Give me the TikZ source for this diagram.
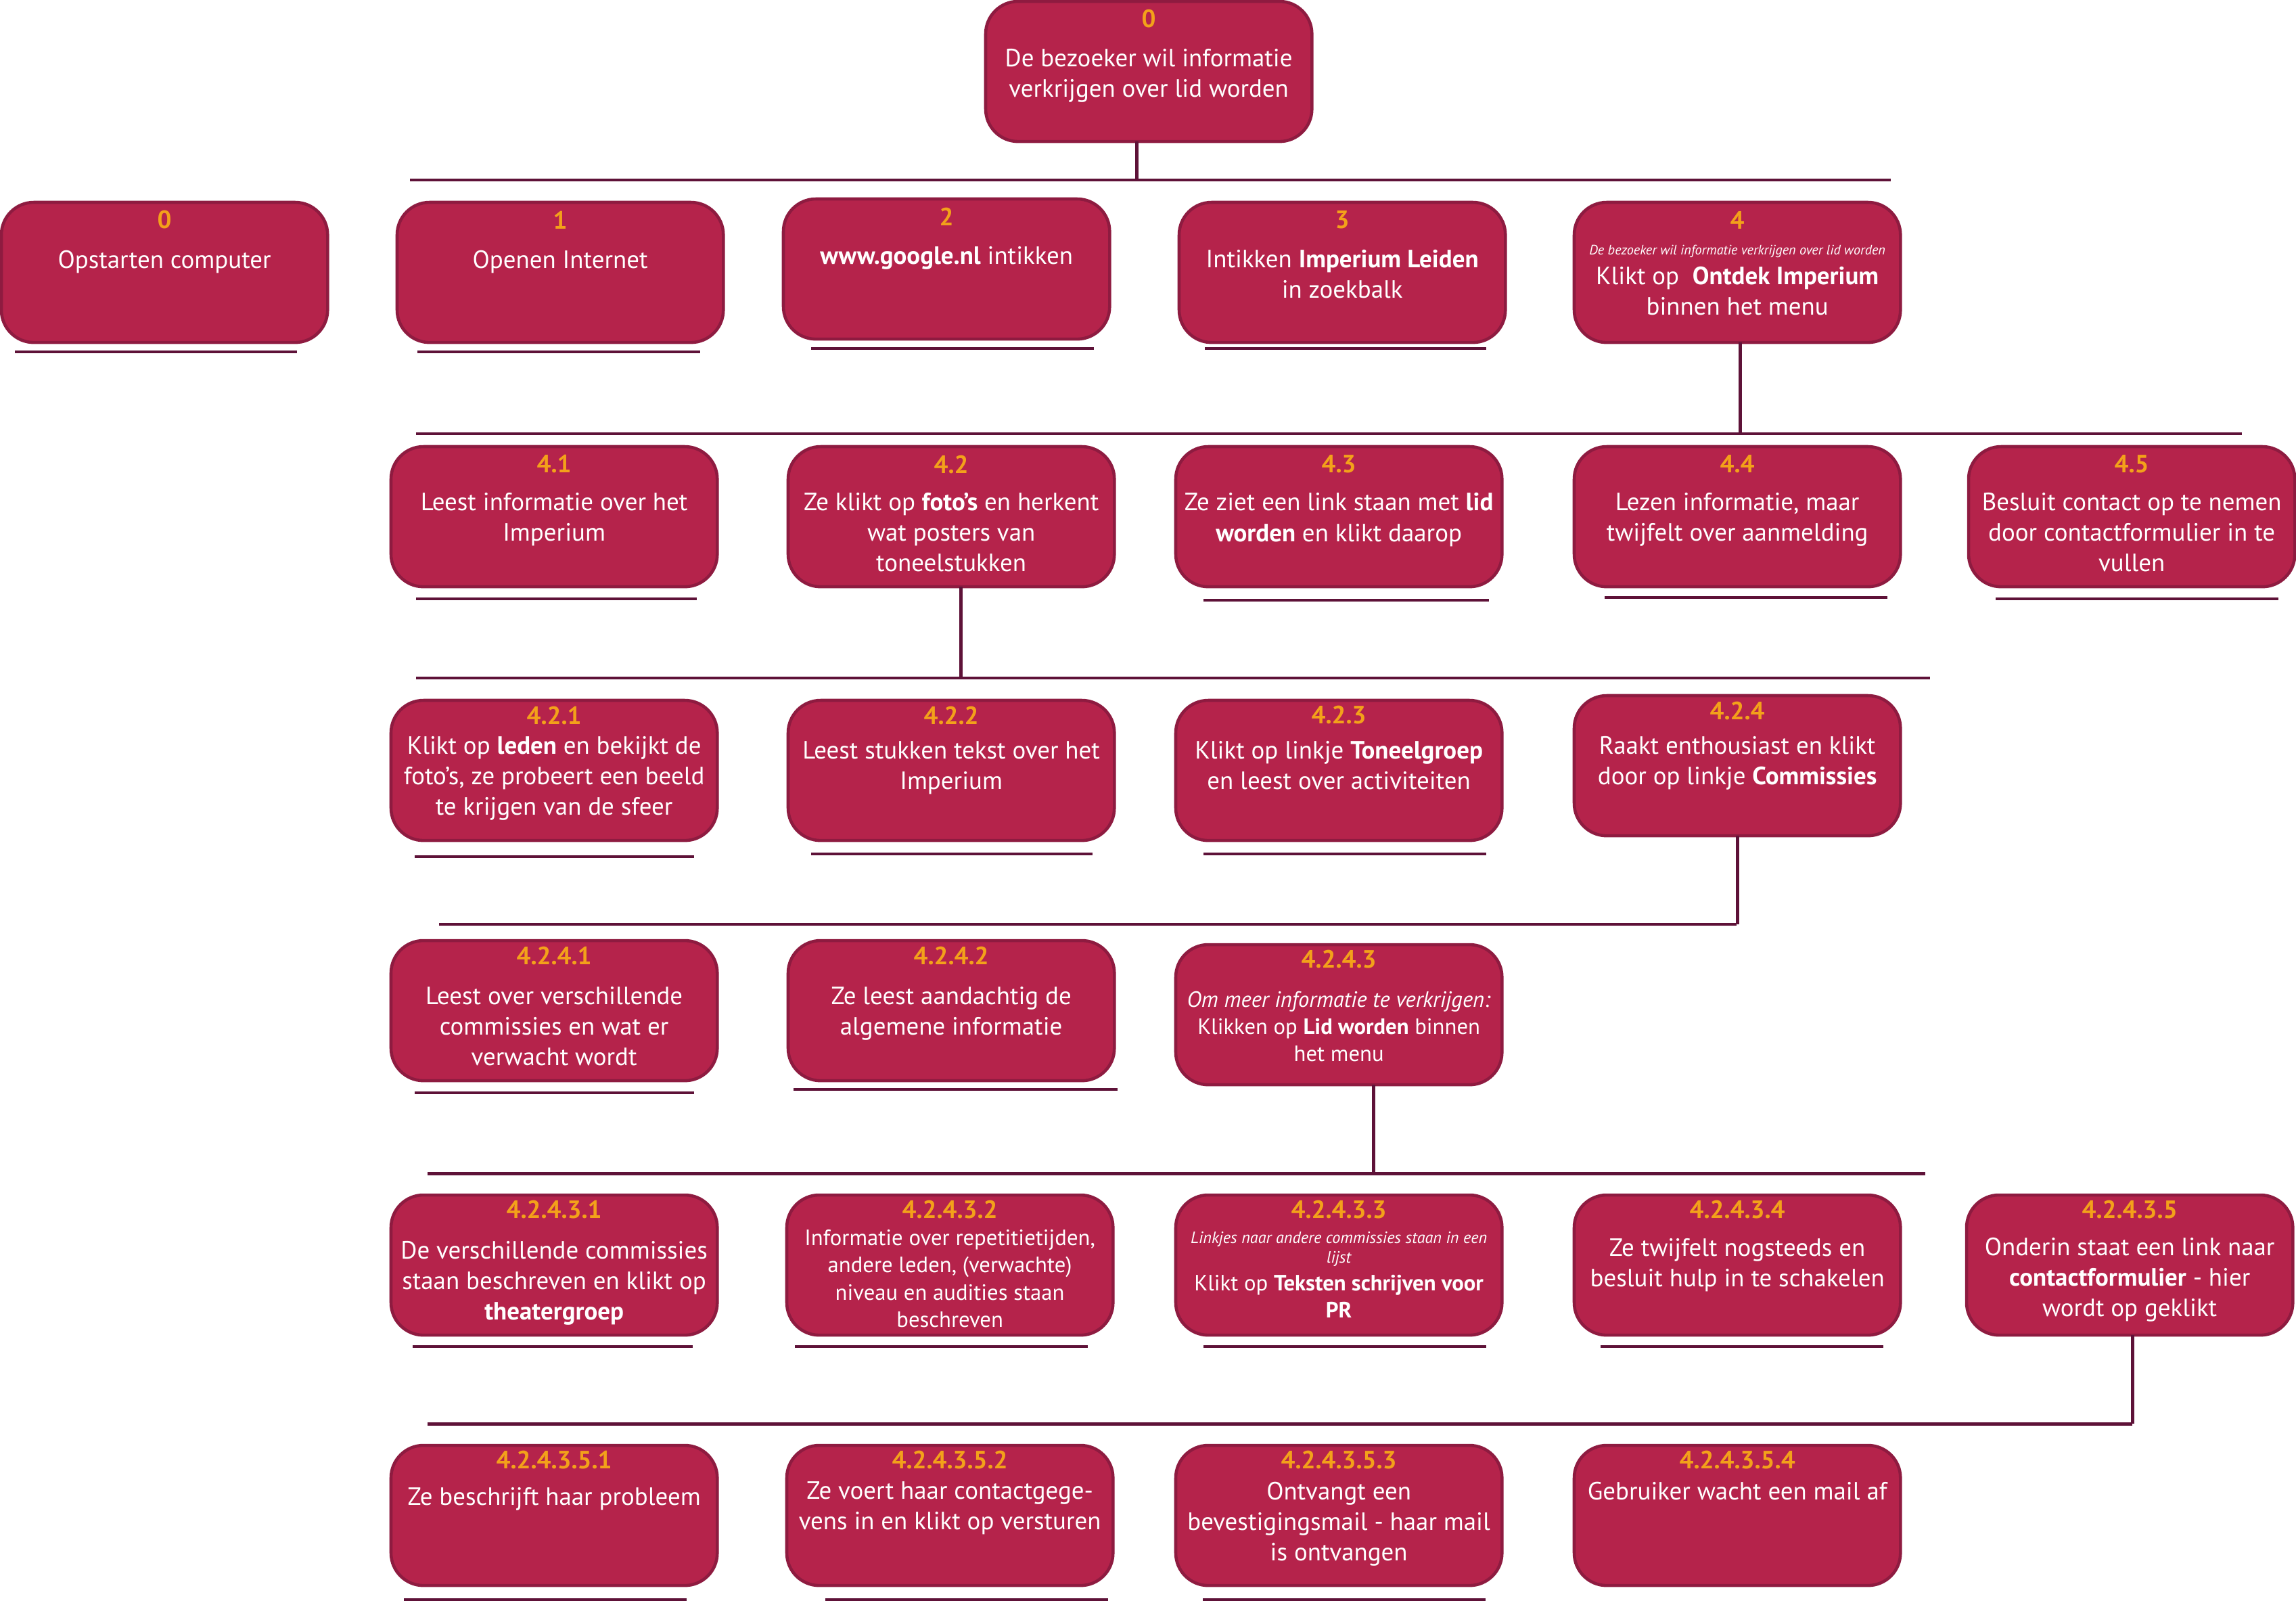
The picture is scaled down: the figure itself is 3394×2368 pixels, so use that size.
\documentclass[tikz,border=0pt]{standalone}
\usepackage{fontspec}
\setmainfont{PT Sans}
\usetikzlibrary{calc}

\definecolor{boxfill}{HTML}{B5234B}
\definecolor{boxborder}{HTML}{8E1B40}
\definecolor{linecol}{HTML}{5E1238}
\definecolor{numorange}{HTML}{F3A11A}

\tikzset{
  stepbox/.style={draw=boxborder, fill=boxfill, line width=1.3pt,
    rounded corners=0.48cm, minimum width=4.82cm, minimum height=2.07cm,
    inner sep=0pt, outer sep=0pt},
  numtext/.style={text=numorange, font=\bfseries\fontsize{10.5}{12}\selectfont, inner sep=0pt},
  steptext/.style={text=white, font=\fontsize{10.5}{12.8}\selectfont, align=center,
    inner sep=0pt, anchor=north},
  smalltext/.style={font=\fontsize{9.3}{11.4}\selectfont},
  tinytext/.style={font=\itshape\fontsize{5.75}{7}\selectfont},
  link/.style={draw=linecol, line width=1.4pt},
  underrule/.style={draw=linecol, line width=1.3pt},
}

% #1 name, #2 left, #3 top, #4 number, #5 number offset, #6 text offset, #7 text style, #8 text
\newcommand\flowstep[8]{%
  \node[stepbox, anchor=north west] (#1) at (#2,#3) {};
  \node[numtext] (#1-nr) at ($(#1.north)+(0,#5)$) {#4};
  \node[steptext,#7] (#1-tx) at ($(#1.north)+(0,#6)$) {#8};
}

\begin{document}
\begin{tikzpicture}[x=0.01cm, y=-0.01cm]
\useasboundingbox (0,0) rectangle (3394,2368);

% ---- top goal
\flowstep{top}{1457}{2}{0}{26}{70}{}{De bezoeker wil informatie\\verkrijgen over lid worden}

% ---- row 1
\flowstep{s0}{2}{299}{0}{26}{70}{}{Opstarten computer}
\flowstep{s1}{587}{299}{1}{26}{70}{}{Openen Internet}
\flowstep{s2}{1158}{294}{2}{26}{70}{}{\textbf{www.google.nl} intikken}
\flowstep{s3}{1743}{299}{3}{26}{70}{}{Intikken \textbf{Imperium Leiden}\\in zoekbalk}
\flowstep{s4}{2327}{299}{4}{26}{94}{}{Klikt op \ \textbf{Ontdek Imperium}\\binnen het menu}
\node[steptext,tinytext] (s4-sub) at ($(s4.north)+(0,62)$) {De bezoeker wil informatie verkrijgen over lid worden};

% ---- row 2
\flowstep{s41}{578}{660}{4.1}{26}{68}{}{Leest informatie over het\\Imperium}
\flowstep{s42}{1165}{660}{4.2}{26}{68}{}{Ze klikt op \textbf{foto’s} en herkent\\wat posters van\\toneelstukken}
\flowstep{s43}{1738}{660}{4.3}{26}{68}{}{Ze ziet een link staan met \textbf{lid}\\\textbf{worden} en klikt daarop}
\flowstep{s44}{2327}{660}{4.4}{26}{68}{}{Lezen informatie, maar\\twijfelt over aanmelding}
\flowstep{s45}{2910}{660}{4.5}{26}{68}{}{Besluit contact op te nemen\\door contactformulier in te\\vullen}

% ---- row 3
\flowstep{s421}{578}{1035}{4.2.1}{22}{53}{}{Klikt op \textbf{leden} en bekijkt de\\foto’s, ze probeert een beeld\\te krijgen van de sfeer}
\flowstep{s422}{1165}{1035}{4.2.2}{22}{60}{}{Leest stukken tekst over het\\Imperium}
\flowstep{s423}{1738}{1035}{4.2.3}{22}{60}{}{Klikt op linkje \textbf{Toneelgroep}\\en leest over activiteiten}
\flowstep{s424}{2327}{1028}{4.2.4}{22}{60}{}{Raakt enthousiast en klikt\\door op linkje \textbf{Commissies}}

% ---- row 4
\flowstep{s4241}{578}{1390}{4.2.4.1}{22}{68}{}{Leest over verschillende\\commissies en wat er\\verwacht wordt}
\flowstep{s4242}{1165}{1390}{4.2.4.2}{22}{68}{}{Ze leest aandachtig de\\algemene informatie}
\flowstep{s4243}{1738}{1396}{4.2.4.3}{22}{68}{smalltext}{\textit{Om meer informatie te verkrijgen:}\\Klikken op \textbf{Lid worden} binnen\\het menu}

% ---- row 5
\flowstep{s42431}{578}{1766}{4.2.4.3.1}{22}{68}{}{De verschillende commissies\\staan beschreven en klikt op\\\textbf{theatergroep}}
\flowstep{s42432}{1163}{1766}{4.2.4.3.2}{22}{51}{smalltext}{Informatie over repetitietijden,\\andere leden, (verwachte)\\niveau en audities staan\\beschreven}
\flowstep{s42433}{1738}{1766}{4.2.4.3.3}{22}{117}{smalltext}{Klikt op \textbf{Teksten schrijven voor}\\\textbf{PR}}
\node[steptext,tinytext,font=\itshape\fontsize{6.9}{8}\selectfont] (s42433-sub) at ($(s42433.north)+(0,54)$) {Linkjes naar andere commissies staan in een\\lijst};
\flowstep{s42434}{2327}{1766}{4.2.4.3.4}{22}{64}{}{Ze twijfelt nogsteeds en\\besluit hulp in te schakelen}
\flowstep{s42435}{2907}{1766}{4.2.4.3.5}{22}{62}{}{Onderin staat een link naar\\\textbf{contactformulier} - hier\\wordt op geklikt}

% ---- row 6
\flowstep{s424351}{578}{2136}{4.2.4.3.5.1}{22}{62}{}{Ze beschrijft haar probleem}
\flowstep{s424352}{1163}{2136}{4.2.4.3.5.2}{22}{53}{}{Ze voert haar contactgege-\\vens in en klikt op versturen}
\flowstep{s424353}{1738}{2136}{4.2.4.3.5.3}{22}{53}{}{Ontvangt een\\bevestigingsmail - haar mail\\is ontvangen}
\flowstep{s424354}{2327}{2136}{4.2.4.3.5.4}{22}{53}{}{Gebruiker wacht een mail af}

% ---- bus lines
\coordinate (bus1w) at (606,266);  \coordinate (bus1e) at (2795,266);
\coordinate (bus2w) at (615,641);  \coordinate (bus2e) at (3314,641);
\coordinate (bus3w) at (615,1002); \coordinate (bus3e) at (2853,1002);
\coordinate (bus4w) at (649,1366); \coordinate (bus4e) at (2567,1366);
\coordinate (bus5w) at (632,1734); \coordinate (bus5e) at (2846,1734);
\coordinate (bus6w) at (632,2104); \coordinate (bus6e) at (3152,2104);
\foreach \b in {1,...,6} {\draw[link] (bus\b w) -- (bus\b e);}

% ---- stems from parent boxes down to their bus
\coordinate (st0) at ($(top.south)+(-18,0)$);
\coordinate (st4) at ($(s4.south)+(4,0)$);
\coordinate (st42) at ($(s42.south)+(14,0)$);
\coordinate (st424) at ($(s424.south)+(0,0)$);
\coordinate (st4243) at ($(s4243.south)+(51,0)$);
\coordinate (st42435) at ($(s42435.south)+(4,0)$);
\draw[link] (st0) -- (st0 |- bus1w);
\draw[link] (st4) -- (st4 |- bus2w);
\draw[link] (st42) -- (st42 |- bus3w);
\draw[link] (st424) -- (st424 |- bus4w);
\draw[link] (st4243) -- (st4243 |- bus5w);
\draw[link] (st42435) -- (st42435 |- bus6w);

% ---- rules under the boxes
\draw[underrule] (22,520) -- (439,520);
\draw[underrule] (617,520) -- (1035,520);
\draw[underrule] (1199,515) -- (1617,515);
\draw[underrule] (1781,515) -- (2197,515);

\draw[underrule] (615,885) -- (1030,885);
\draw[underrule] (1779,887) -- (2201,887);
\draw[underrule] (2372,883) -- (2790,883);
\draw[underrule] (2950,885) -- (3368,885);

\draw[underrule] (613,1266) -- (1026,1266);
\draw[underrule] (1199,1262) -- (1615,1262);
\draw[underrule] (1779,1262) -- (2197,1262);

\draw[underrule] (613,1615) -- (1026,1615);
\draw[underrule] (1173,1610) -- (1652,1610);

\draw[underrule] (610,1990) -- (1024,1990);
\draw[underrule] (1175,1990) -- (1608,1990);
\draw[underrule] (1779,1990) -- (2197,1990);
\draw[underrule] (2366,1990) -- (2784,1990);

\draw[underrule] (597,2364) -- (1015,2364);
\draw[underrule] (1220,2364) -- (1638,2364);
\draw[underrule] (1778,2364) -- (2196,2364);
\end{tikzpicture}
\end{document}
